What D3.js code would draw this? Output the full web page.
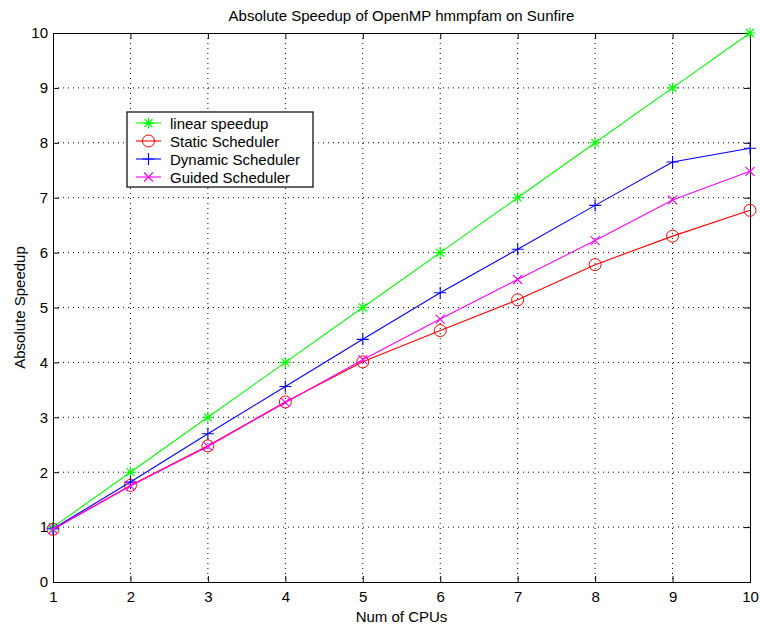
<!DOCTYPE html>
<html>
<head>
<meta charset="utf-8">
<script src="https://cdn.jsdelivr.net/npm/d3@7"></script>
<style>
  body { margin: 0; background: #fff; }
  text { font-family: "Liberation Sans", Arial, sans-serif; }
</style>
</head>
<body>
<div id="chart"></div>
<script>
// data
const cpus = [1, 2, 3, 4, 5, 6, 7, 8, 9, 10];
const linearSpeedup = [1, 2, 3, 4, 5, 6, 7, 8, 9, 10];
const staticSched = [0.96, 1.76, 2.48, 3.28, 4.01, 4.58, 5.14, 5.78, 6.30, 6.77];
const dynamicSched = [0.97, 1.82, 2.70, 3.56, 4.42, 5.27, 6.06, 6.86, 7.65, 7.90];
const guidedSched = [0.96, 1.75, 2.47, 3.27, 4.05, 4.79, 5.51, 6.22, 6.96, 7.48];
const yTicks = [0, 1, 2, 3, 4, 5, 6, 7, 8, 9, 10];

const series = [
  { name: "linear speedup", values: linearSpeedup, color: "#00ff00", marker: "star" },
  { name: "Static Scheduler", values: staticSched, color: "#ff0000", marker: "circle" },
  { name: "Dynamic Scheduler", values: dynamicSched, color: "#0000ff", marker: "plus" },
  { name: "Guided Scheduler", values: guidedSched, color: "#ff00ff", marker: "cross" }
];

const W = 760, H = 625;
const mLeft = 53, mRight = 750, mTop = 33, mBottom = 582;
const fs = 15;

const svg = d3.select("#chart").append("svg")
  .attr("width", W)
  .attr("height", H);

const x = d3.scaleLinear().domain([1, 10]).range([mLeft, mRight]);
const y = d3.scaleLinear().domain([0, 10]).range([mBottom, mTop]);

// grid (dotted)
const grid = svg.append("g");
grid.selectAll(".vg").data(cpus.slice(1, -1)).enter().append("line")
  .attr("x1", d => x(d)).attr("x2", d => x(d))
  .attr("y1", mTop).attr("y2", mBottom)
  .attr("stroke", "#000").attr("stroke-width", 1)
  .attr("stroke-dasharray", "1,4");
grid.selectAll(".hg").data(yTicks.slice(1, -1)).enter().append("line")
  .attr("y1", d => y(d)).attr("y2", d => y(d))
  .attr("x1", mLeft).attr("x2", mRight)
  .attr("stroke", "#000").attr("stroke-width", 1)
  .attr("stroke-dasharray", "1,4");

// axes, ticks pointing inward
const xAxis = svg.append("g")
  .attr("transform", `translate(0,${mBottom})`)
  .call(d3.axisBottom(x).tickValues(cpus).tickSize(-6).tickPadding(9).tickFormat(d3.format("d")));
const yAxis = svg.append("g")
  .attr("transform", `translate(${mLeft},0)`)
  .call(d3.axisLeft(y).tickValues(yTicks).tickSize(-6).tickPadding(5).tickFormat(d3.format("d")));
const xTop = svg.append("g")
  .attr("transform", `translate(0,${mTop})`)
  .call(d3.axisTop(x).tickValues(cpus).tickSize(-6).tickFormat(""));
const yRight = svg.append("g")
  .attr("transform", `translate(${mRight},0)`)
  .call(d3.axisRight(y).tickValues(yTicks).tickSize(-6).tickFormat(""));

[xAxis, yAxis, xTop, yRight].forEach(g => {
  g.select(".domain").attr("stroke", "#000").attr("stroke-width", 1);
  g.selectAll(".tick line").attr("stroke", "#000");
  g.selectAll("text").attr("font-size", fs).attr("fill", "#000")
    .style("font-family", "'Liberation Sans', Arial, sans-serif");
});

// lines
const line = d3.line().x((d, i) => x(cpus[i])).y(d => y(d));

function drawMarker(g, type, cx, cy, color) {
  if (type === "circle") {
    g.append("circle").attr("cx", cx).attr("cy", cy).attr("r", 6)
      .attr("fill", "none").attr("stroke", color).attr("stroke-width", 1);
  } else if (type === "plus") {
    g.append("path").attr("d", `M${cx - 6},${cy}H${cx + 6}M${cx},${cy - 6}V${cy + 6}`)
      .attr("stroke", color).attr("stroke-width", 1.1);
  } else if (type === "cross") {
    g.append("path").attr("d", `M${cx - 4.5},${cy - 4.5}L${cx + 4.5},${cy + 4.5}M${cx - 4.5},${cy + 4.5}L${cx + 4.5},${cy - 4.5}`)
      .attr("stroke", color).attr("stroke-width", 1.1);
  } else if (type === "star") {
    g.append("path").attr("d",
      `M${cx - 5.5},${cy}H${cx + 5.5}M${cx},${cy - 5.5}V${cy + 5.5}` +
      `M${cx - 4},${cy - 4}L${cx + 4},${cy + 4}M${cx - 4},${cy + 4}L${cx + 4},${cy - 4}`)
      .attr("stroke", color).attr("stroke-width", 1.1);
  }
}

series.forEach(s => {
  svg.append("path").datum(s.values)
    .attr("d", line)
    .attr("fill", "none")
    .attr("stroke", s.color)
    .attr("stroke-width", 1.1);
  const mg = svg.append("g");
  s.values.forEach((v, i) => drawMarker(mg, s.marker, x(cpus[i]), y(v), s.color));
});

// legend
const lg = svg.append("g");
lg.append("rect")
  .attr("x", 127).attr("y", 112).attr("width", 186).attr("height", 75)
  .attr("fill", "#fff").attr("stroke", "#000").attr("stroke-width", 1.2);
series.forEach((s, i) => {
  const ly = 123 + i * 18;
  lg.append("line").attr("x1", 136).attr("x2", 161).attr("y1", ly).attr("y2", ly)
    .attr("stroke", s.color).attr("stroke-width", 1.1);
  drawMarker(lg, s.marker, 148.5, ly, s.color);
  lg.append("text").attr("x", 170).attr("y", ly + 5.5)
    .attr("font-size", fs).attr("fill", "#000").text(s.name);
});

// titles
svg.append("text")
  .attr("x", (mLeft + mRight) / 2).attr("y", 21)
  .attr("text-anchor", "middle").attr("font-size", fs)
  .text("Absolute Speedup of OpenMP hmmpfam on Sunfire");
svg.append("text")
  .attr("x", (mLeft + mRight) / 2).attr("y", 622)
  .attr("text-anchor", "middle").attr("font-size", fs)
  .text("Num of CPUs");
svg.append("text")
  .attr("transform", `translate(25,${(mTop + mBottom) / 2}) rotate(-90)`)
  .attr("text-anchor", "middle").attr("font-size", fs)
  .text("Absolute Speedup");
</script>
</body>
</html>
